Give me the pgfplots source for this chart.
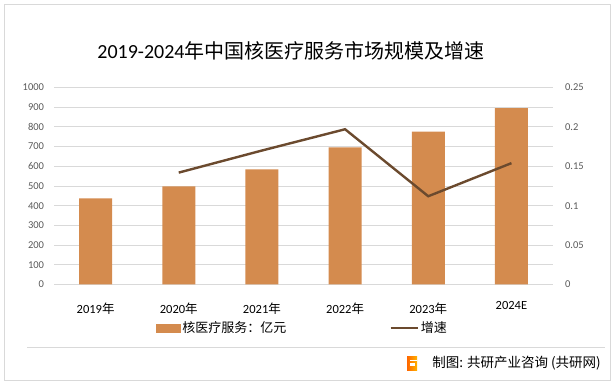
\documentclass[border=0pt]{standalone}
\usepackage{pgfplots}
\pgfplotsset{compat=1.18}
\usepackage{fontspec}
\setmainfont{Carlito}
\newfontfamily\cjk{Noto Sans CJK SC}
\definecolor{barc}{RGB}{212,139,78}
\definecolor{linec}{RGB}{107,74,46}
\definecolor{gridc}{RGB}{217,217,217}
\definecolor{tickc}{RGB}{89,89,89}
\begin{document}
\begin{tikzpicture}
\path[use as bounding box] (0pt,0pt) rectangle (615pt,385pt);
\draw[gridc, line width=0.8pt] (4.5pt,5pt) rectangle (610.5pt,381pt);
\node[font=\fontsize{20}{24}\selectfont] at (291pt,334pt) {2019-2024{\cjk 年中国核医疗服务市场规模及增速}};
\begin{axis}[
 at={(54pt,100.5pt)}, anchor=south west, scale only axis, width=499pt, height=197pt,
 xmin=-0.5, xmax=5.5, ymin=0, ymax=1000,
 ytick={0,100,...,1000}, xtick={0,...,5},
 xticklabels={2019{\cjk 年},2020{\cjk 年},2021{\cjk 年},2022{\cjk 年},2023{\cjk 年},\raisebox{4pt}{2024E}},
 axis line style={draw=none}, major tick length=0pt,
 ymajorgrids, grid style={gridc, line width=0.8pt},
 /pgf/number format/assume math mode=true,
 /pgf/number format/set thousands separator={},
 yticklabel style={font=\fontsize{10.5}{12}\selectfont, text=tickc, anchor=east, xshift=-6.5pt},
 xticklabel style={font=\fontsize{12.5}{14}\selectfont, text=black, anchor=base, yshift=-29pt},
]
\addplot[ybar, bar width=33pt, fill=barc, draw=none] coordinates {(0,437) (1,498) (2,585) (3,696) (4,776) (5,895)};
\end{axis}
\begin{axis}[
 at={(54pt,100.5pt)}, anchor=south west, scale only axis, width=499pt, height=197pt,
 xmin=-0.5, xmax=5.5, ymin=0, ymax=0.25,
 axis y line*=right, axis x line=none,
 axis line style={draw=none}, major tick length=0pt,
 ytick={0,0.05,0.1,0.15,0.2,0.25}, yticklabels={0,0.05,0.1,0.15,0.2,0.25},
 scaled y ticks=false,
 yticklabel style={font=\fontsize{10.5}{12}\selectfont, text=tickc, anchor=west, xshift=8.5pt},
 legend columns=2,
 legend style={draw=none, fill=none, inner sep=0pt, outer sep=0pt,
   at={(axis description cs:0.2044,-0.2208)}, anchor=west,
   font=\fontsize{13}{15}\selectfont,
   nodes={inner sep=2pt},
   /tikz/every even column/.append style={column sep=101pt}},
]
\addlegendimage{legend image code/.code={\fill[barc] (0pt,-4pt) rectangle (24pt,4pt);}}
\addlegendentry{{\cjk 核医疗服务：亿元}}
\addplot[linec, line width=2.4pt, legend image code/.code={\draw[linec,line width=2.4pt] (0pt,0pt) -- (27pt,0pt);}] coordinates {(1,0.142) (2,0.170) (3,0.197) (4,0.112) (5,0.154)};
\addlegendentry{{\cjk 增速}}
\end{axis}
\draw[gridc, line width=0.8pt] (27pt,38pt) -- (605pt,38pt);
\shade[left color=orange!80!red, right color=orange!60!yellow] (407pt,14pt) rectangle (417pt,28pt);
\fill[white] (409.5pt,19pt) rectangle (414.5pt,21.5pt);
\fill[white] (409.5pt,23.5pt) rectangle (417pt,25pt);
\node[anchor=east, font=\fontsize{13.5}{15}\selectfont\cjk, inner sep=0pt] at (601pt,22pt) {制图: 共研产业咨询 (共研网)};
\end{tikzpicture}
\end{document}
